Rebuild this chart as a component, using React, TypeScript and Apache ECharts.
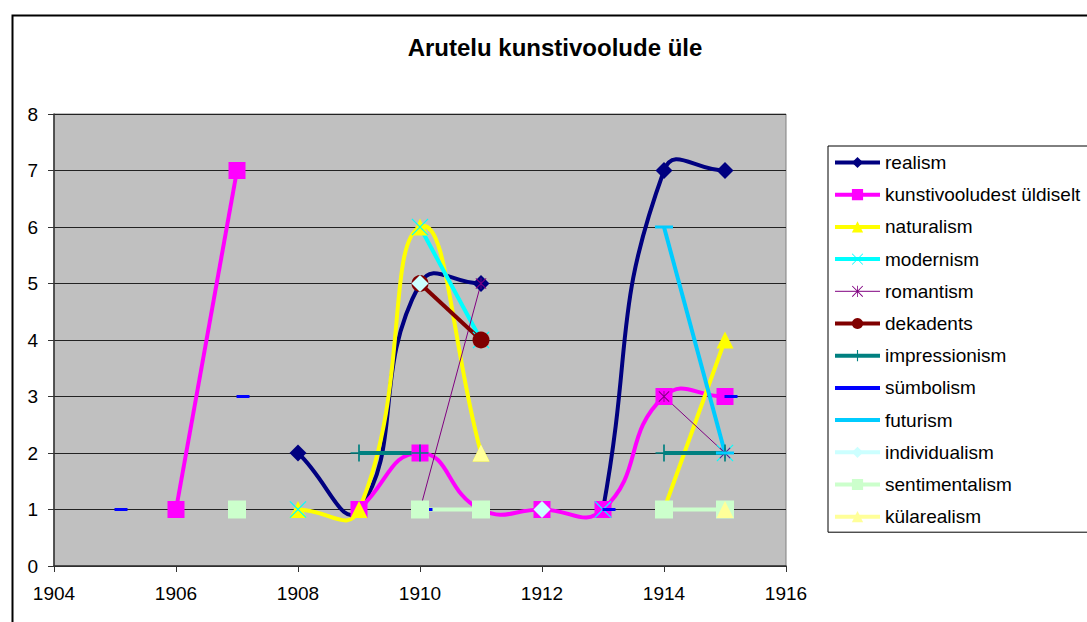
import React, { useEffect, useRef } from "react";
import * as echarts from "echarts";

const chartTitle = "Arutelu kunstivoolude üle";
const years = [1905, 1906, 1907, 1908, 1909, 1910, 1911, 1912, 1913, 1914, 1915];
const xTicks = [1904, 1906, 1908, 1910, 1912, 1914, 1916];
const yTicks = [0, 1, 2, 3, 4, 5, 6, 7, 8];

type V = number | null;
const realism: V[] = [null, null, null, 2, 1, 5, 5, null, 1, 7, 7];
const kunstivooludest: V[] = [null, 1, 7, null, 1, 2, 1, 1, 1, 3, 3];
const naturalism: V[] = [null, null, null, 1, 1, 6, 2, null, null, 1, 4];
const modernism: V[] = [null, null, null, 1, null, 6, 4, null, 1, null, 2];
const romantism: V[] = [null, null, null, null, null, 1, 5, null, null, 3, 2];
const dekadents: V[] = [null, null, null, null, null, 5, 4, null, null, null, null];
const impressionism: V[] = [null, null, null, null, 2, 2, null, null, null, 2, 2];
const symbolism: V[] = [1, null, 3, null, null, 1, null, null, 1, null, 3];
const futurism: V[] = [null, null, null, null, null, null, null, null, null, 6, 2];
const individualism: V[] = [null, null, null, null, null, 5, null, 1, null, null, null];
const sentimentalism: V[] = [null, null, 1, null, null, 1, 1, null, null, 1, 1];
const kularealism: V[] = [null, null, null, null, null, null, 2, null, null, null, 1];

const FONT = "'Liberation Sans', Arial, sans-serif";

const PLUS = "path://M0,9 L20,9 L20,11 L0,11 Z M9,0 L11,0 L11,20 L9,20 Z";
const CROSS = "path://M0,1 L1,0 L20,19 L19,20 Z M19,0 L20,1 L1,20 L0,19 Z";
const STAR =
  "path://M0,1.2 L1.2,0 L20,18.8 L18.8,20 Z M18.8,0 L20,1.2 L1.2,20 L0,18.8 Z M9.3,0 L10.7,0 L10.7,20 L9.3,20 Z";
const LEGEND_BAR = "path://M0,0 L45,0 L45,4 L0,4 Z";

interface Def {
  name: string;
  data: V[];
  color: string;
  width: number;
  symbol: string;
  size: number | number[];
  offset?: number[];
  smooth?: boolean;
  plainLegend?: boolean;
}

const defs: Def[] = [
  { name: "realism", data: realism, color: "#000080", width: 4, symbol: "diamond", size: 17, smooth: true },
  { name: "kunstivooludest üldiselt", data: kunstivooludest, color: "#FF00FF", width: 4, symbol: "rect", size: 17, smooth: true },
  { name: "naturalism", data: naturalism, color: "#FFFF00", width: 4, symbol: "triangle", size: 17, smooth: true },
  { name: "modernism", data: modernism, color: "#00FFFF", width: 4, symbol: CROSS, size: 17 },
  { name: "romantism", data: romantism, color: "#800080", width: 1, symbol: STAR, size: 11 },
  { name: "dekadents", data: dekadents, color: "#800000", width: 4, symbol: "circle", size: 17 },
  { name: "impressionism", data: impressionism, color: "#008080", width: 4, symbol: PLUS, size: 17 },
  { name: "sümbolism", data: symbolism, color: "#0000FF", width: 4, symbol: "rect", size: [13, 3], offset: [6, 0], plainLegend: true },
  { name: "futurism", data: futurism, color: "#00CCFF", width: 4, symbol: "rect", size: [18, 3], plainLegend: true },
  { name: "individualism", data: individualism, color: "#CCFFFF", width: 4, symbol: "diamond", size: 17 },
  { name: "sentimentalism", data: sentimentalism, color: "#CCFFCC", width: 4, symbol: "rect", size: 18 },
  { name: "külarealism", data: kularealism, color: "#FFFF99", width: 4, symbol: "triangle", size: 17 },
];

// Excel-like smoothing (bezier control points from neighbours, no clamping), in pixel space
function buildSmoothPath(pts: number[][], smooth: number): string {
  const n = pts.length;
  const before: number[][] = [];
  const after: number[][] = [];
  for (let i = 0; i < n; i++) {
    const p = pts[i];
    const prev = i > 0 ? pts[i - 1] : p;
    const next = i < n - 1 ? pts[i + 1] : p;
    const vx = next[0] - prev[0];
    const vy = next[1] - prev[1];
    const lp = Math.hypot(p[0] - prev[0], p[1] - prev[1]);
    const ln = Math.hypot(next[0] - p[0], next[1] - p[1]);
    const r = lp + ln > 0 ? ln / (lp + ln) : 0.5;
    before.push([p[0] - vx * smooth * (1 - r), p[1] - vy * smooth * (1 - r)]);
    after.push([p[0] + vx * smooth * r, p[1] + vy * smooth * r]);
  }
  let d = `M${pts[0][0]},${pts[0][1]}`;
  for (let i = 0; i < n - 1; i++) {
    d += ` C${after[i][0]},${after[i][1]} ${before[i + 1][0]},${before[i + 1][1]} ${pts[i + 1][0]},${pts[i + 1][1]}`;
  }
  return d;
}

export default function App() {
  const ref = useRef<HTMLDivElement>(null);
  useEffect(() => {
    document.body.style.margin = "0";
    if (!ref.current) return;
    const chart = echarts.init(ref.current, undefined, { renderer: "svg" });
    const series: any[] = [];
    defs.forEach((d) => {
      if (d.smooth) {
        series.push({
          type: "custom",
          name: "curve-" + d.name,
          coordinateSystem: "cartesian2d",
          silent: true,
          data: [[years[0], 0]],
          renderItem: (_params: any, api: any) => {
            const segs: number[][][] = [];
            let cur: number[][] = [];
            years.forEach((y, i) => {
              const v = d.data[i];
              if (v === null) {
                if (cur.length) segs.push(cur);
                cur = [];
              } else {
                cur.push(api.coord([y, v]));
              }
            });
            if (cur.length) segs.push(cur);
            return {
              type: "group",
              children: segs
                .filter((s) => s.length > 1)
                .map((s) => ({
                  type: "path",
                  shape: { pathData: buildSmoothPath(s, 0.5) },
                  style: { stroke: d.color, lineWidth: d.width, fill: "none" },
                })),
            };
          },
        });
      }
      series.push({
        type: "line",
        name: d.name,
        data: years.map((y, i) => [y, d.data[i] === null ? "-" : d.data[i]]),
        smooth: false,
        symbol: d.symbol,
        symbolSize: d.size,
        symbolOffset: d.offset || [0, 0],
        showSymbol: true,
        connectNulls: false,
        lineStyle: d.smooth
          ? { color: d.color, width: 0, opacity: 0 }
          : { color: d.color, width: d.width },
        itemStyle: { color: d.color, opacity: 1 },
        emphasis: { disabled: true },
      });
    });
    chart.setOption({
      animation: false,
      backgroundColor: "#FFFFFF",
      textStyle: { fontFamily: FONT },
      grid: {
        left: 54,
        top: 114,
        width: 732,
        height: 452,
        show: true,
        backgroundColor: "#C0C0C0",
        borderColor: "#808080",
        borderWidth: 1,
      },
      legend: {
        orient: "vertical",
        left: 828,
        top: 146,
        itemWidth: 45,
        itemHeight: 14,
        itemGap: 13.2,
        padding: [7, 300, 6, 5],
        borderColor: "#000",
        borderWidth: 1,
        backgroundColor: "#FFFFFF",
        selectedMode: false,
        textStyle: { fontFamily: FONT, fontSize: 19, color: "#000", lineHeight: 19 },
        data: defs.map((d) =>
          d.plainLegend
            ? { name: d.name, icon: LEGEND_BAR, itemStyle: { color: d.color } }
            : { name: d.name, lineStyle: { color: d.color, width: d.width, opacity: 1 } }
        ),
      },
      xAxis: {
        type: "value",
        min: xTicks[0],
        max: xTicks[xTicks.length - 1],
        interval: 2,
        axisLine: { show: true, lineStyle: { color: "#333", width: 1.5 } },
        axisTick: { show: true, length: 6, lineStyle: { color: "#333" } },
        splitLine: { show: false },
        axisLabel: {
          margin: 18,
          fontFamily: FONT,
          fontSize: 19,
          color: "#000",
          formatter: (v: number) => String(v),
        },
      },
      yAxis: {
        type: "value",
        min: yTicks[0],
        max: yTicks[yTicks.length - 1],
        interval: 1,
        axisLine: { show: true, lineStyle: { color: "#333", width: 1.5 } },
        axisTick: { show: true, length: 6, lineStyle: { color: "#333" } },
        splitLine: { show: true, lineStyle: { color: "#222", width: 1 } },
        axisLabel: { margin: 16, fontFamily: FONT, fontSize: 19, color: "#000" },
      },
      graphic: [
        {
          type: "text",
          x: 555,
          y: 47,
          style: {
            text: chartTitle,
            textAlign: "center",
            textVerticalAlign: "middle",
            fontFamily: FONT,
            fontSize: 24,
            fontWeight: "bold",
            fill: "#000",
          },
          silent: true,
        },
        {
          type: "rect",
          left: 10,
          top: 13,
          shape: { x: 0, y: 0, width: 1200, height: 700 },
          style: { fill: "none", stroke: "#000", lineWidth: 2 },
          silent: true,
          z: 100,
        },
      ],
      series,
    });
    return () => chart.dispose();
  }, []);
  return <div ref={ref} style={{ width: 1087, height: 622 }} />;
}
